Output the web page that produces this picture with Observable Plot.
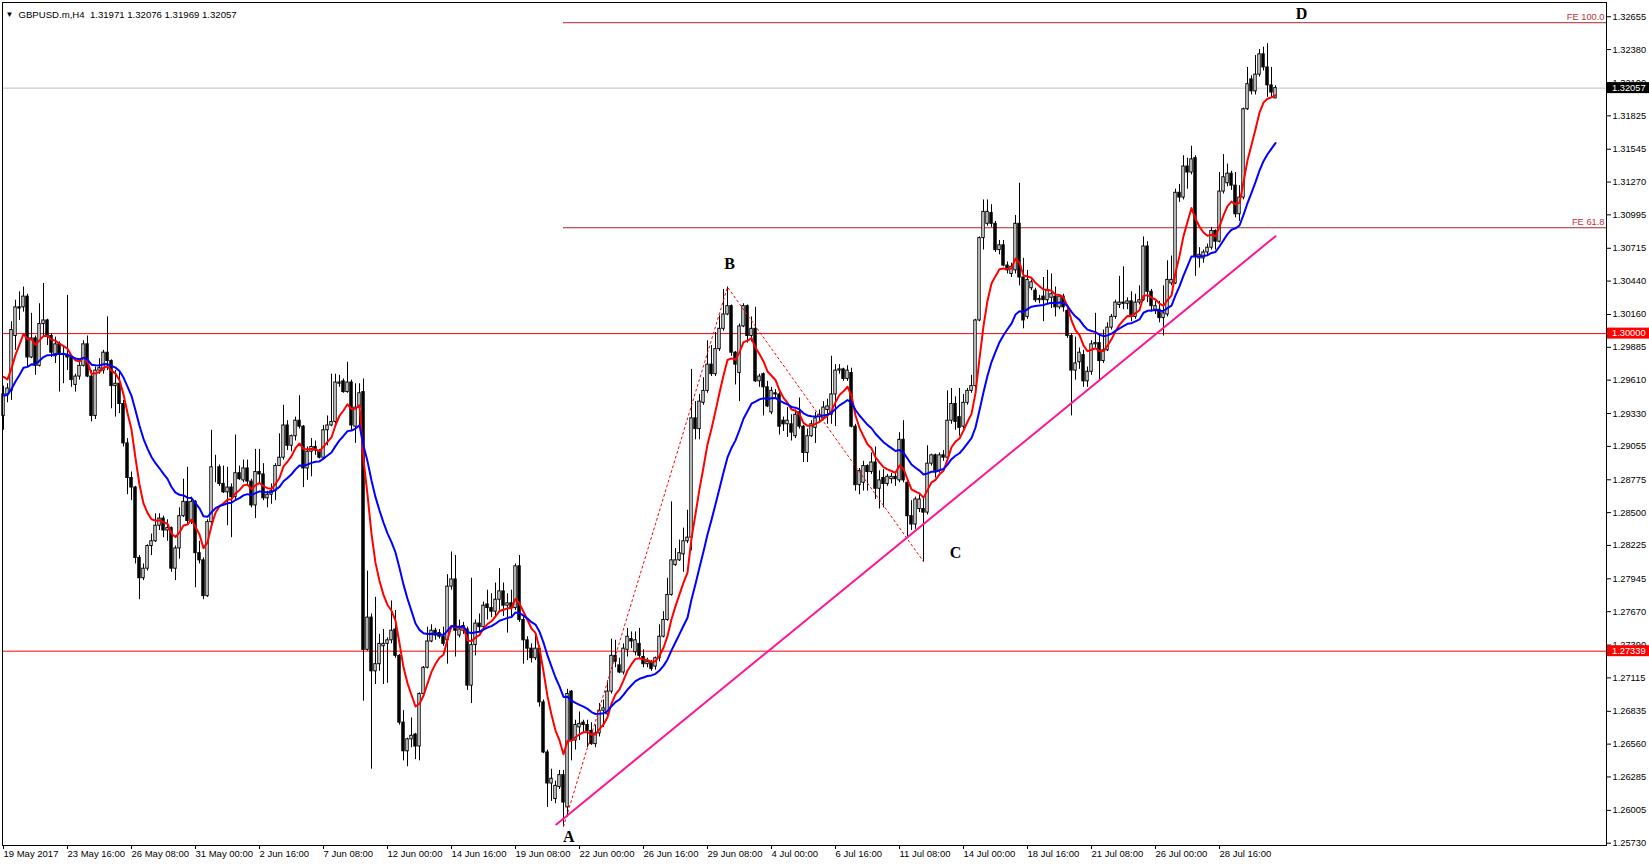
<!DOCTYPE html>
<html><head><meta charset="utf-8">
<script src="https://cdn.jsdelivr.net/npm/d3@7"></script>
<script src="https://cdn.jsdelivr.net/npm/@observablehq/plot@0.6"></script>
<style>html,body{margin:0;padding:0;background:#fff;overflow:hidden}</style>
</head><body><div id="chart"></div>
<script>
const headerText = "GBPUSD.m,H4  1.31971 1.32076 1.31969 1.32057";
const timeLabels = ["19 May 2017","23 May 16:00","26 May 08:00","31 May 00:00","2 Jun 16:00","7 Jun 08:00","12 Jun 00:00","14 Jun 16:00","19 Jun 08:00","22 Jun 00:00","26 Jun 16:00","29 Jun 08:00","4 Jul 00:00","6 Jul 16:00","11 Jul 08:00","14 Jul 00:00","18 Jul 16:00","21 Jul 08:00","26 Jul 00:00","28 Jul 16:00"];
const timeLabelBars = [0,16,32,48,64,80,96,112,128,144,160,176,192,208,224,240,256,272,288,304];
const priceTicks = [1.32655,1.32380,1.32100,1.31825,1.31545,1.31270,1.30995,1.30715,1.30440,1.30160,1.29885,1.29610,1.29330,1.29055,1.28775,1.28500,1.28225,1.27945,1.27670,1.27390,1.27115,1.26835,1.26560,1.26285,1.26005,1.25730];

const opens = [
1.2931,1.2949,1.2952,1.2998,1.3022,1.3022,1.3031,1.2980,1.2996,1.2973,
1.3008,1.3011,1.2998,1.2981,1.2991,1.2983,1.2982,1.2980,1.2957,1.2964,
1.2973,1.2991,1.2964,1.2931,1.2969,1.2969,1.2984,1.2977,1.2956,1.2958,
1.2941,1.2908,1.2879,1.2871,1.2812,1.2795,1.2803,1.2822,1.2826,1.2839,
1.2845,1.2835,1.2837,1.2803,1.2820,1.2847,1.2859,1.2843,1.2859,1.2816,
1.2810,1.2780,1.2842,1.2888,1.2888,1.2874,1.2867,1.2871,1.2863,1.2883,
1.2877,1.2887,1.2876,1.2856,1.2884,1.2882,1.2862,1.2865,1.2868,1.2889,
1.2896,1.2923,1.2906,1.2914,1.2927,1.2922,1.2887,1.2901,1.2905,1.2901,
1.2896,1.2919,1.2923,1.2926,1.2958,1.2960,1.2951,1.2959,1.2922,1.2938,
1.2951,1.2735,1.2762,1.2717,1.2723,1.2738,1.2740,1.2743,1.2752,1.2730,
1.2674,1.2650,1.2660,1.2664,1.2654,1.2698,1.2720,1.2742,1.2751,1.2749,
1.2746,1.2743,1.2788,1.2794,1.2747,1.2751,1.2752,1.2705,1.2739,1.2757,
1.2754,1.2773,1.2770,1.2767,1.2777,1.2784,1.2772,1.2774,1.2770,1.2805,
1.2760,1.2743,1.2736,1.2728,1.2736,1.2691,1.2649,1.2623,1.2610,1.2620,
1.2630,1.2603,1.2700,1.2659,1.2670,1.2674,1.2672,1.2667,1.2656,1.2665,
1.2684,1.2681,1.2700,1.2730,1.2722,1.2716,1.2735,1.2744,1.2733,1.2740,
1.2729,1.2723,1.2724,1.2721,1.2728,1.2746,1.2760,1.2781,1.2806,1.2810,
1.2815,1.2826,1.2829,1.2929,1.2920,1.2942,1.2952,1.2974,1.2966,1.2987,
1.3004,1.3016,1.3023,1.2984,1.2967,1.3006,1.3023,1.2998,1.3004,1.2960,
1.2966,1.2955,1.2934,1.2950,1.2949,1.2927,1.2924,1.2924,1.2914,1.2934,
1.2922,1.2900,1.2914,1.2921,1.2930,1.2929,1.2936,1.2932,1.2949,1.2969,
1.2970,1.2962,1.2967,1.2922,1.2873,1.2875,1.2889,1.2884,1.2892,1.2870,
1.2879,1.2874,1.2878,1.2880,1.2877,1.2911,1.2875,1.2847,1.2840,1.2853,
1.2853,1.2850,1.2891,1.2898,1.2885,1.2898,1.2896,1.2927,1.2941,1.2930,
1.2922,1.2942,1.2952,1.2956,1.3011,1.3080,1.3092,1.3101,1.3092,1.3070,
1.3074,1.3057,1.3050,1.3053,1.3092,1.3047,1.3014,1.3038,1.3036,1.3028,
1.3031,1.3028,1.3030,1.3031,1.3022,1.3031,1.3019,1.2998,1.2969,1.2976,
1.2982,1.2960,1.2968,1.2991,1.2992,1.2977,1.2986,1.3005,1.3014,1.3024,
1.3026,1.3025,1.3027,1.3014,1.3026,1.3028,1.3073,1.3035,1.3020,1.3020,
1.3013,1.3016,1.3042,1.3042,1.3118,1.3114,1.3140,1.3135,1.3147,1.3063,
1.3063,1.3068,1.3072,1.3086,1.3077,1.3119,1.3126,1.3134,1.3124,1.3100,
1.3114,1.3188,1.3213,1.3203,1.3217,1.3234,1.3223,1.3208,1.31971];

const highs = [
1.2956,1.2958,1.3010,1.3028,1.3035,1.3039,1.3033,1.3017,1.2998,1.3025,
1.3042,1.3012,1.3000,1.2997,1.2993,1.2989,1.3032,1.2982,1.2966,1.2977,
1.2994,1.2998,1.2969,1.2972,1.2979,1.2986,1.3014,1.2978,1.2969,1.2968,
1.2944,1.2912,1.2884,1.2872,1.2814,1.2807,1.2823,1.2832,1.2849,1.2849,
1.2847,1.2844,1.2838,1.2822,1.2854,1.2878,1.2888,1.2863,1.2860,1.2826,
1.2812,1.2844,1.2919,1.2898,1.2890,1.2889,1.2888,1.2874,1.2915,1.2889,
1.2894,1.2894,1.2878,1.2903,1.2903,1.2891,1.2868,1.2874,1.2891,1.2916,
1.2940,1.2927,1.2915,1.2930,1.2948,1.2923,1.2905,1.2912,1.2910,1.2903,
1.2923,1.2931,1.2966,1.2966,1.2965,1.2962,1.2976,1.2961,1.2958,1.2958,
1.2962,1.2801,1.2765,1.2779,1.2748,1.2752,1.2745,1.2776,1.2768,1.2731,
1.2684,1.2661,1.2678,1.2665,1.2699,1.2721,1.2754,1.2756,1.2753,1.2752,
1.2754,1.2798,1.2817,1.2814,1.2760,1.2758,1.2754,1.2795,1.2760,1.2765,
1.2775,1.2785,1.2782,1.2791,1.2803,1.2791,1.2782,1.2785,1.2807,1.2814,
1.2763,1.2746,1.2740,1.2749,1.2738,1.2693,1.2651,1.2635,1.2625,1.2634,
1.2634,1.2702,1.2701,1.2676,1.2683,1.2676,1.2676,1.2674,1.2672,1.2690,
1.2693,1.2709,1.2744,1.2743,1.2728,1.2740,1.2753,1.2750,1.2750,1.2753,
1.2735,1.2728,1.2726,1.2729,1.2756,1.2767,1.2795,1.2859,1.2820,1.2827,
1.2837,1.2852,1.2970,1.2943,1.2949,1.2963,1.2994,1.2990,1.3001,1.3015,
1.3037,1.3039,1.3024,1.2985,1.3008,1.3025,1.3024,1.3014,1.3022,1.2966,
1.2967,1.2960,1.2955,1.2953,1.2953,1.2930,1.2938,1.2932,1.2936,1.2946,
1.2923,1.2920,1.2927,1.2934,1.2936,1.2943,1.2945,1.2981,1.2974,1.2974,
1.2971,1.2973,1.2971,1.2924,1.2887,1.2893,1.2890,1.2900,1.2905,1.2885,
1.2886,1.2882,1.2883,1.2884,1.2917,1.2927,1.2876,1.2860,1.2863,1.2865,
1.2863,1.2906,1.2899,1.2899,1.2900,1.2902,1.2952,1.2954,1.2947,1.2954,
1.2949,1.2954,1.2965,1.3012,1.3081,1.3112,1.3112,1.3108,1.3094,1.3078,
1.3078,1.3060,1.3059,1.3099,1.3126,1.3063,1.3053,1.3045,1.3038,1.3032,
1.3047,1.3053,1.3050,1.3039,1.3032,1.3033,1.3022,1.3000,1.2997,1.2988,
1.2986,1.2972,1.2994,1.3017,1.2999,1.3003,1.3009,1.3016,1.3028,1.3048,
1.3056,1.3030,1.3035,1.3033,1.3040,1.3081,1.3077,1.3037,1.3027,1.3027,
1.3040,1.3061,1.3065,1.3121,1.3125,1.3149,1.3147,1.3157,1.3149,1.3072,
1.3070,1.3075,1.3089,1.3087,1.3135,1.3150,1.3142,1.3136,1.3135,1.3124,
1.3189,1.3223,1.3216,1.3233,1.3238,1.3240,1.3243,1.3223,1.32076];

const lows = [
1.2919,1.2942,1.2944,1.2986,1.3011,1.3018,1.2972,1.2979,1.2965,1.2972,
1.2997,1.2990,1.2980,1.2975,1.2951,1.2958,1.2969,1.2955,1.2951,1.2961,
1.2972,1.2963,1.2926,1.2928,1.2966,1.2966,1.2969,1.2937,1.2930,1.2933,
1.2905,1.2865,1.2860,1.2807,1.2777,1.2793,1.2801,1.2814,1.2825,1.2835,
1.2829,1.2826,1.2800,1.2793,1.2811,1.2846,1.2840,1.2840,1.2787,1.2807,
1.2777,1.2779,1.2840,1.2875,1.2872,1.2866,1.2839,1.2829,1.2861,1.2877,
1.2875,1.2872,1.2854,1.2845,1.2874,1.2860,1.2854,1.2857,1.2860,1.2889,
1.2894,1.2902,1.2901,1.2910,1.2920,1.2871,1.2877,1.2880,1.2898,1.2895,
1.2894,1.2906,1.2922,1.2924,1.2955,1.2950,1.2950,1.2919,1.2908,1.2922,
1.2692,1.2734,1.2635,1.2706,1.2717,1.2706,1.2707,1.2740,1.2728,1.2672,
1.2642,1.2637,1.2653,1.2643,1.2642,1.2697,1.2719,1.2741,1.2743,1.2744,
1.2738,1.2723,1.2785,1.2729,1.2745,1.2748,1.2701,1.2690,1.2730,1.2750,
1.2753,1.2760,1.2762,1.2763,1.2768,1.2763,1.2749,1.2762,1.2768,1.2758,
1.2723,1.2726,1.2724,1.2726,1.2687,1.2648,1.2603,1.2608,1.2606,1.2618,
1.2587,1.2595,1.2642,1.2651,1.2659,1.2665,1.2653,1.2655,1.2653,1.2662,
1.2670,1.2680,1.2698,1.2720,1.2715,1.2714,1.2729,1.2736,1.2730,1.2728,
1.2720,1.2720,1.2717,1.2718,1.2725,1.2745,1.2759,1.2780,1.2805,1.2809,
1.2800,1.2824,1.2818,1.2911,1.2911,1.2940,1.2950,1.2964,1.2964,1.2985,
1.3002,1.3015,1.2981,1.2957,1.2943,1.3005,1.2992,1.2993,1.2959,1.2955,
1.2931,1.2938,1.2932,1.2945,1.2915,1.2918,1.2913,1.2910,1.2912,1.2920,
1.2892,1.2892,1.2913,1.2908,1.2926,1.2927,1.2924,1.2924,1.2922,1.2966,
1.2960,1.2960,1.2921,1.2868,1.2865,1.2868,1.2868,1.2882,1.2861,1.2853,
1.2854,1.2872,1.2874,1.2872,1.2875,1.2875,1.2830,1.2835,1.2836,1.2850,
1.2809,1.2848,1.2889,1.2879,1.2883,1.2893,1.2895,1.2924,1.2919,1.2914,
1.2920,1.2940,1.2950,1.2949,1.3010,1.3070,1.3090,1.3089,1.3068,1.3066,
1.3056,1.3050,1.3047,1.3050,1.3040,1.3004,1.3012,1.3036,1.3026,1.3025,
1.3010,1.3025,1.3021,1.3014,1.3020,1.3018,1.2996,1.2931,1.2961,1.2970,
1.2955,1.2955,1.2965,1.2988,1.2960,1.2975,1.2985,1.3003,1.3012,1.3021,
1.3020,1.3020,1.3010,1.3012,1.3024,1.3027,1.3026,1.3018,1.3016,1.3009,
1.2998,1.3014,1.3040,1.3041,1.3110,1.3112,1.3121,1.3133,1.3048,1.3055,
1.3059,1.3065,1.3070,1.3070,1.3076,1.3117,1.3123,1.3120,1.3097,1.3094,
1.3112,1.3187,1.3200,1.3200,1.3215,1.3220,1.3198,1.3198,1.31969];

const closes = [
1.2949,1.2954,1.3003,1.3022,1.3021,1.3031,1.2980,1.2996,1.2973,1.3008,
1.3011,1.2998,1.2984,1.2991,1.2983,1.2982,1.2980,1.2961,1.2964,1.2973,
1.2991,1.2964,1.2931,1.2969,1.2971,1.2984,1.2977,1.2956,1.2958,1.2941,
1.2908,1.2879,1.2871,1.2812,1.2795,1.2803,1.2822,1.2826,1.2839,1.2845,
1.2835,1.2837,1.2803,1.2820,1.2847,1.2859,1.2843,1.2859,1.2816,1.2810,
1.2780,1.2842,1.2888,1.2888,1.2874,1.2867,1.2871,1.2863,1.2883,1.2878,
1.2887,1.2876,1.2856,1.2884,1.2882,1.2862,1.2865,1.2868,1.2889,1.2896,
1.2923,1.2906,1.2914,1.2927,1.2922,1.2887,1.2901,1.2905,1.2902,1.2896,
1.2919,1.2923,1.2926,1.2959,1.2959,1.2951,1.2959,1.2923,1.2938,1.2950,
1.2735,1.2762,1.2717,1.2723,1.2740,1.2740,1.2743,1.2751,1.2730,1.2674,
1.2650,1.2660,1.2663,1.2654,1.2698,1.2720,1.2742,1.2751,1.2747,1.2746,
1.2740,1.2788,1.2794,1.2751,1.2752,1.2755,1.2705,1.2739,1.2757,1.2754,
1.2772,1.2770,1.2767,1.2777,1.2784,1.2772,1.2774,1.2770,1.2805,1.2760,
1.2743,1.2736,1.2728,1.2736,1.2691,1.2649,1.2623,1.2627,1.2621,1.2630,
1.2607,1.2698,1.2659,1.2672,1.2673,1.2672,1.2667,1.2656,1.2665,1.2684,
1.2686,1.2700,1.2730,1.2725,1.2716,1.2736,1.2746,1.2742,1.2743,1.2730,
1.2723,1.2725,1.2719,1.2728,1.2746,1.2760,1.2781,1.2810,1.2810,1.2816,
1.2826,1.2829,1.2929,1.2920,1.2943,1.2952,1.2974,1.2966,1.2987,1.3004,
1.3016,1.3023,1.2984,1.2974,1.3006,1.3023,1.2998,1.3004,1.2960,1.2964,
1.2955,1.2939,1.2952,1.2949,1.2922,1.2924,1.2927,1.2917,1.2932,1.2922,
1.2900,1.2914,1.2924,1.2929,1.2932,1.2938,1.2939,1.2949,1.2969,1.2970,
1.2962,1.2969,1.2922,1.2873,1.2885,1.2889,1.2884,1.2892,1.2870,1.2877,
1.2874,1.2880,1.2880,1.2878,1.2911,1.2877,1.2847,1.2840,1.2861,1.2861,
1.2850,1.2891,1.2898,1.2885,1.2898,1.2896,1.2927,1.2941,1.2926,1.2921,
1.2942,1.2952,1.2956,1.3011,1.3080,1.3102,1.3102,1.3092,1.3070,1.3074,
1.3057,1.3053,1.3056,1.3092,1.3047,1.3011,1.3045,1.3043,1.3028,1.3029,
1.3028,1.3036,1.3033,1.3022,1.3031,1.3022,1.2998,1.2969,1.2975,1.2984,
1.2960,1.2968,1.2991,1.2992,1.2977,1.2986,1.3005,1.3014,1.3026,1.3026,
1.3025,1.3027,1.3014,1.3026,1.3028,1.3073,1.3035,1.3023,1.3023,1.3013,
1.3017,1.3045,1.3045,1.3118,1.3114,1.3140,1.3135,1.3146,1.3065,1.3066,
1.3068,1.3072,1.3086,1.3077,1.3119,1.3131,1.3134,1.3124,1.3100,1.3114,
1.3188,1.3209,1.3203,1.3217,1.3234,1.3223,1.3208,1.3202,1.32057];

// Moving averages (EMA 8 red, EMA 21 blue) with the level they had before the first visible bar
const maPeriods = [8, 21];
const maSeeds = [1.2968, 1.2948];
const maColors = ["#ff0000", "#0000ff"];

const bidPrice = 1.32057;
const levelPrices = [1.30000, 1.27339];
const fiboBars = [140, 181, 230];
const fiboPrices = [1.2587, 1.3039, 1.2809];
const feNames = ["FE 100.0", "FE 61.8"];
const fePrices = [1.32605, 1.30887];
const trendBars = [138.2, 318];
const trendPrices = [1.25887, 1.30816];
const waveNames = ["A", "B", "C", "D"];
const waveBars = [141.3, 181.5, 238, 324.5];
const wavePrices = [1.25786, 1.30587, 1.28166, 1.32682];
const tagPrices = [1.32057, 1.30000, 1.27339];
const tagColors = ["#000000", "#ff0000", "#ff0000"];

const bars = closes.map((c, i) => ({i, o: opens[i], h: highs[i], l: lows[i], c}));
function ema(values, n, seed) { const a = 2 / (n + 1); let e = seed; return values.map(v => (e = e + a * (v - e))); }
const maLines = maPeriods.map((n, k) => ema(closes, n, maSeeds[k]).map((v, i) => ({i, v, k})));
const fibo = fiboBars.map((b, j) => ({b, p: fiboPrices[j]}));
const trend = trendBars.map((b, j) => ({b, p: trendPrices[j]}));
const fe = feNames.map((n, j) => ({n, p: fePrices[j]}));
const waves = waveNames.map((n, j) => ({n, b: waveBars[j], p: wavePrices[j]}));

const font = "'Liberation Sans', Arial, sans-serif";
const chart = Plot.plot({
  width: 1649, height: 866,
  marginLeft: 2, marginTop: 2, marginRight: 43, marginBottom: 21,
  style: {fontFamily: font, fontSize: "9.3px", background: "#fff", color: "#000", overflow: "visible"},
  x: {type: "linear", domain: [-0.25, 400.75]},
  y: {type: "linear", domain: [1.257106, 1.327744]},
  marks: [
    Plot.ruleY([bidPrice], {stroke: "#c0c0c0"}),
    Plot.ruleY(levelPrices, {stroke: "#ff0000"}),
    Plot.ruleY(fe, {y: "p", x1: fiboBars[0], x2: 400.75, stroke: "#a8282c"}),
    Plot.text(fe, {y: "p", text: "n", frameAnchor: "right", textAnchor: "end", dx: -2, dy: -6, fill: "#c0303c", fontSize: 9.3}),
    Plot.ruleX(bars, {x: "i", y1: "l", y2: "h", stroke: "#000"}),
    Plot.rect(bars, {x1: d => d.i - 0.3, x2: d => d.i + 0.3, y1: "o", y2: "c", fill: d => d.c >= d.o ? "#fff" : "#000", stroke: "#000", strokeWidth: 1}),
    ...maLines.map((line, k) => Plot.line(line, {x: "i", y: "v", stroke: maColors[k], strokeWidth: 2})),
    Plot.line(fibo, {x: "b", y: "p", stroke: "#ff0000", strokeDasharray: "2,3", strokeWidth: 1}),
    Plot.line(trend, {x: "b", y: "p", stroke: "#ff1493", strokeWidth: 2}),
    Plot.text(waves, {x: "b", y: "p", text: "n", fontFamily: "'Liberation Serif', 'Times New Roman', serif", fontWeight: "bold", fontSize: 16, fill: "#000"}),
    Plot.text(["\u25BC"], {frameAnchor: "top-left", dx: 7, dy: 9, fontSize: 8, textAnchor: "middle"}),
    Plot.text([headerText], {frameAnchor: "top-left", dx: 16, dy: 9, textAnchor: "start", fontSize: 9.6}),
    Plot.axisY(priceTicks, {anchor: "right", tickSize: 4, tickPadding: 2, tickFormat: d => d.toFixed(5), fontSize: 9.3}),
    Plot.axisX(timeLabelBars, {anchor: "bottom", tickSize: 4, tickPadding: 1, textAnchor: "start", tickFormat: d => timeLabels[timeLabelBars.indexOf(d)], fontSize: 9.5}),
    Plot.frame({stroke: "#000"})
  ]
});

const ys = chart.scale("y");
const svg = d3.select(chart);
tagPrices.forEach((p, j) => {
  const yy = ys.apply(p);
  svg.append("rect").attr("x", 1607).attr("y", yy - 5.5).attr("width", 42).attr("height", 11).attr("fill", tagColors[j]);
  svg.append("text").attr("x", 1612).attr("y", yy).attr("dy", "0.34em").attr("fill", "#fff")
    .attr("text-anchor", "start")
    .style("font-family", font).style("font-size", "9.3px").text(p.toFixed(5));
});
document.getElementById("chart").appendChild(chart);
</script>
</body></html>
